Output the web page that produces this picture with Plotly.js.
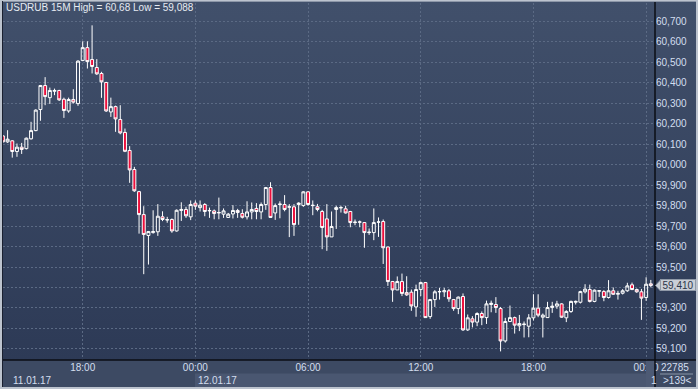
<!DOCTYPE html>
<html>
<head>
<meta charset="utf-8">
<script src="https://cdn.plot.ly/plotly-3.0.1.min.js"></script>
<style>
  html, body { margin: 0; padding: 0; background: #2d3a56; }
  #wrap { position: relative; width: 698px; height: 389px; overflow: hidden;
          background: linear-gradient(to bottom, #41506b 0px, #2d3a56 360px, #2d3a56 389px); }
  #chart { position: absolute; left: 0; top: 0; width: 698px; height: 389px; }
  #frame { position: absolute; left: 0; top: 0; width: 698px; height: 389px; box-sizing: border-box;
           border: 2px solid #bcc3ce; border-top-width: 1px; pointer-events: none;
           box-shadow: inset 1px 0 0 #1a2030, inset 0 1px 0 #8d97a8; }
</style>
</head>
<body>
<div id="wrap"><div id="chart"></div><div id="frame"></div></div>
<script>
// 15-minute bars, USDRUB, first bar 2017-01-11 13:45
const startTime = '2017-01-11T13:45:00Z';
const barMinutes = 15;

const openVals = [
  60.140, 60.111, 60.116, 60.064, 60.085, 60.078, 60.126, 60.166, 60.269, 60.386, 60.327, 60.358, 60.362, 60.319, 60.262, 60.318, 60.298,
  60.508, 60.571, 60.513, 60.474, 60.445, 60.401, 60.257, 60.283, 60.220, 60.157,
  60.069, 59.976, 59.868, 59.756, 59.654, 59.668, 59.672, 59.745, 59.732, 59.732,
  59.676, 59.776, 59.781, 59.745, 59.812, 59.790, 59.805, 59.774, 59.774, 59.764,
  59.758, 59.742, 59.759, 59.776, 59.761, 59.745, 59.769, 59.786, 59.769, 59.805,
  59.888, 59.764, 59.805, 59.805, 59.792, 59.794, 59.805, 59.800, 59.867, 59.802,
  59.794, 59.771, 59.735, 59.647, 59.781, 59.789, 59.784, 59.771, 59.717, 59.719,
  59.717, 59.668, 59.668, 59.719, 59.722, 59.598, 59.429, 59.388, 59.429, 59.375,
  59.377, 59.305, 59.390, 59.424, 59.258, 59.341, 59.379, 59.379, 59.384, 59.341,
  59.297, 59.356, 59.193, 59.247, 59.231, 59.273, 59.253, 59.317, 59.317, 59.297,
  59.139, 59.234, 59.253, 59.213, 59.219, 59.211, 59.252, 59.299, 59.255, 59.253,
  59.302, 59.309, 59.320, 59.252, 59.283, 59.328, 59.328, 59.379, 59.390, 59.332,
  59.382, 59.380, 59.351, 59.384, 59.367, 59.372, 59.384, 59.413, 59.390, 59.379,
  59.351, 59.418
];
const highVals = [
  60.144, 60.168, 60.119, 60.103, 60.106, 60.132, 60.209, 60.270, 60.389, 60.427, 60.376, 60.371, 60.365, 60.327, 60.327, 60.368, 60.510,
  60.602, 60.602, 60.680, 60.515, 60.453, 60.404, 60.327, 60.288, 60.290, 60.176,
  60.090, 59.989, 59.872, 59.797, 59.676, 59.777, 59.807, 59.772, 59.745, 59.737,
  59.781, 59.816, 59.794, 59.825, 59.825, 59.825, 59.812, 59.790, 59.781, 59.839,
  59.786, 59.764, 59.802, 59.784, 59.782, 59.821, 59.815, 59.812, 59.815, 59.891,
  59.914, 59.810, 59.821, 59.851, 59.807, 59.807, 59.816, 59.870, 59.870, 59.825,
  59.808, 59.779, 59.807, 59.771, 59.799, 59.799, 59.799, 59.774, 59.732, 59.727,
  59.719, 59.688, 59.786, 59.742, 59.732, 59.598, 59.432, 59.454, 59.468, 59.455,
  59.390, 59.414, 59.429, 59.427, 59.344, 59.387, 59.398, 59.398, 59.393, 59.344,
  59.356, 59.371, 59.268, 59.260, 59.279, 59.283, 59.336, 59.336, 59.353, 59.305,
  59.252, 59.312, 59.258, 59.266, 59.234, 59.270, 59.367, 59.367, 59.273, 59.330,
  59.330, 59.335, 59.323, 59.289, 59.336, 59.336, 59.384, 59.416, 59.414, 59.390,
  59.387, 59.387, 59.436, 59.400, 59.384, 59.392, 59.423, 59.424, 59.395, 59.393,
  59.450, 59.437
];
const lowVals = [
  60.108, 60.106, 60.034, 60.038, 60.052, 60.074, 60.122, 60.163, 60.214, 60.290, 60.296, 60.339, 60.311, 60.228, 60.253, 60.298, 60.287,
  60.505, 60.469, 60.445, 60.438, 60.326, 60.257, 60.233, 60.160, 60.148, 60.061,
  59.911, 59.867, 59.663, 59.465, 59.512, 59.663, 59.652, 59.724, 59.716, 59.667,
  59.673, 59.725, 59.740, 59.729, 59.779, 59.771, 59.748, 59.740, 59.733, 59.733,
  59.740, 59.740, 59.737, 59.740, 59.737, 59.732, 59.733, 59.733, 59.733, 59.779,
  59.740, 59.730, 59.738, 59.772, 59.646, 59.652, 59.706, 59.794, 59.800, 59.753,
  59.772, 59.587, 59.579, 59.647, 59.686, 59.766, 59.761, 59.694, 59.704, 59.694,
  59.594, 59.657, 59.631, 59.647, 59.515, 59.408, 59.330, 59.388, 59.358, 59.359,
  59.286, 59.257, 59.358, 59.252, 59.247, 59.305, 59.341, 59.354, 59.330, 59.286,
  59.270, 59.188, 59.188, 59.205, 59.211, 59.216, 59.222, 59.279, 59.276, 59.088,
  59.131, 59.231, 59.175, 59.187, 59.156, 59.157, 59.239, 59.255, 59.156, 59.253,
  59.276, 59.296, 59.252, 59.231, 59.276, 59.317, 59.322, 59.371, 59.327, 59.328,
  59.354, 59.333, 59.346, 59.364, 59.341, 59.366, 59.379, 59.387, 59.374, 59.242,
  59.335, 59.401
];
const closeVals = [
  60.111, 60.124, 60.064, 60.085, 60.074, 60.129, 60.166, 60.266, 60.386, 60.332, 60.362, 60.362, 60.316, 60.264, 60.318, 60.305, 60.505,
  60.571, 60.503, 60.479, 60.443, 60.404, 60.262, 60.283, 60.223, 60.155, 60.065,
  59.974, 59.872, 59.756, 59.659, 59.673, 59.673, 59.748, 59.732, 59.730, 59.676,
  59.777, 59.781, 59.750, 59.805, 59.797, 59.802, 59.771, 59.776, 59.761, 59.766,
  59.774, 59.758, 59.776, 59.766, 59.743, 59.769, 59.781, 59.771, 59.805, 59.888,
  59.742, 59.800, 59.807, 59.781, 59.794, 59.707, 59.812, 59.867, 59.805, 59.800,
  59.781, 59.693, 59.647, 59.698, 59.790, 59.790, 59.764, 59.717, 59.719, 59.720,
  59.668, 59.670, 59.717, 59.720, 59.594, 59.429, 59.388, 59.429, 59.371, 59.364,
  59.310, 59.390, 59.424, 59.253, 59.341, 59.379, 59.380, 59.384, 59.345, 59.297,
  59.353, 59.193, 59.252, 59.231, 59.273, 59.253, 59.320, 59.323, 59.302, 59.139,
  59.234, 59.253, 59.216, 59.224, 59.221, 59.252, 59.299, 59.265, 59.265, 59.302,
  59.309, 59.320, 59.255, 59.283, 59.332, 59.332, 59.380, 59.392, 59.332, 59.387,
  59.384, 59.351, 59.384, 59.367, 59.371, 59.384, 59.408, 59.390, 59.379, 59.348,
  59.416, 59.410
];

const xTickVals = ['2017-01-11 18:00', '2017-01-12 00:00', '2017-01-12 06:00', '2017-01-12 12:00', '2017-01-12 18:00', '2017-01-13 00:00'];
const xTickText = ['18:00', '00:00', '06:00', '12:00', '18:00', '00:00'];
const yTickVals = [59.1, 59.2, 59.3, 59.4, 59.5, 59.6, 59.7, 59.8, 59.9, 60.0, 60.1, 60.2, 60.3, 60.4, 60.5, 60.6, 60.7];
// the 59,400 label is hidden under the last-price tag in the reference
const yTickText = ['59,100', '59,200', '59,300', '', '59,500', '59,600', '59,700', '59,800', '59,900', '60,000',
                   '60,100', '60,200', '60,300', '60,400', '60,500', '60,600', '60,700'];
const dateLabels = ['11.01.17', '12.01.17', '1'];
const titleText = 'USDRUB 15M High = 60,68 Low = 59,088';
const lastPrice = 59.410;
const lastPriceText = '59,410';
const infoTop = '22785';
const infoBottom = '>139<';

function fmt(d) {
  const p = n => String(n).padStart(2, '0');
  return d.getUTCFullYear() + '-' + p(d.getUTCMonth() + 1) + '-' + p(d.getUTCDate()) + ' ' + p(d.getUTCHours()) + ':' + p(d.getUTCMinutes());
}
const t0 = new Date(startTime).getTime();
const times = openVals.map((_, i) => fmt(new Date(t0 + i * barMinutes * 60000)));

const W = 698, H = 389, ML = 3, MR = 43, MT = 3, MB = 29;
const PW = W - ML - MR, PH = H - MT - MB;
const px = x => (x - ML) / PW;          // pixel -> paper x
const py = y => (H - MB - y) / PH;      // pixel -> paper y

const fontFam = '"Liberation Sans", Arial, sans-serif';
const labelColor = '#d3deef';
const gridColor = '#5b6a84';

const trace = {
  type: 'candlestick',
  x: times, open: openVals, high: highVals, low: lowVals, close: closeVals,
  increasing: { line: { color: '#ffffff', width: 1 }, fillcolor: 'rgba(0,0,0,0)' },
  decreasing: { line: { color: '#ffffff', width: 1 }, fillcolor: '#ec0f3c' },
  whiskerwidth: 0,
  hoverinfo: 'skip',
  showlegend: false
};

const yr = [59.046, 60.789];
const tagHalf = 5.5 * (yr[1] - yr[0]) / PH;

const layout = {
  width: W, height: H,
  margin: { l: ML, r: MR, t: MT, b: MB, pad: 0 },
  paper_bgcolor: 'rgba(0,0,0,0)',
  plot_bgcolor: 'rgba(0,0,0,0)',
  separators: ', ',
  boxgap: 0.1,
  font: { family: fontFam, size: 10, color: labelColor },
  xaxis: {
    type: 'date',
    range: ['2017-01-11 13:45:22', '2017-01-13 00:28:21'],
    rangeslider: { visible: false },
    tickmode: 'array', tickvals: xTickVals, ticktext: xTickText,
    showgrid: true, gridcolor: gridColor, griddash: '2px,2px', gridwidth: 1,
    zeroline: false, showline: false, ticks: '',
    tickfont: { family: fontFam, size: 10, color: labelColor },
    fixedrange: true
  },
  yaxis: {
    side: 'right',
    range: yr,
    tickmode: 'array', tickvals: yTickVals, ticktext: yTickText,
    showgrid: true, gridcolor: gridColor, griddash: '2px,2px', gridwidth: 1,
    zeroline: false, showline: false, ticks: '',
    tickfont: { family: fontFam, size: 10, color: labelColor },
    fixedrange: true
  },
  shapes: [
    { type: 'rect', xref: 'paper', yref: 'paper', x0: px(0), x1: px(698), y0: py(389), y1: py(360),
      fillcolor: '#3d4a63', line: { width: 0 }, layer: 'below' },
    { type: 'rect', xref: 'paper', yref: 'paper', x0: px(195), x1: px(646), y0: py(389), y1: py(373.5),
      fillcolor: '#4a5771', line: { width: 0 }, layer: 'below' },
    { type: 'rect', xref: 'paper', yref: 'paper', x0: px(646), x1: px(655), y0: py(389), y1: py(360.5),
      fillcolor: '#4d5a74', line: { width: 0 }, layer: 'above' },
    { type: 'line', xref: 'paper', yref: 'paper', x0: px(655), x1: px(655), y0: py(389), y1: py(2),
      line: { color: '#0b0e15', width: 1.5 }, layer: 'above' },
    { type: 'line', xref: 'paper', yref: 'paper', x0: px(2), x1: px(698), y0: py(360), y1: py(360),
      line: { color: '#0b0e15', width: 1.5 }, layer: 'above' },
    { type: 'line', xref: 'paper', yref: 'paper', x0: px(660), x1: px(693), y0: py(374), y1: py(374),
      line: { color: '#8a95a8', width: 1 }, layer: 'above' },
    { type: 'path', xref: 'paper', yref: 'y', layer: 'above',
      path: 'M ' + px(655.5) + ',' + lastPrice + ' L ' + px(660.5) + ',' + (lastPrice + tagHalf) +
            ' L ' + px(660.5) + ',' + (lastPrice - tagHalf) + ' Z',
      fillcolor: '#c9ced6', line: { color: '#8f99a8', width: 1 } }
  ],
  annotations: [
    { text: titleText, xref: 'paper', yref: 'paper', x: px(4), y: py(8), xanchor: 'left', yanchor: 'middle',
      showarrow: false, font: { family: fontFam, size: 10, color: '#e6ebf2' } },
    { text: dateLabels[0], xref: 'paper', yref: 'paper', x: px(11), y: py(380), xanchor: 'left', yanchor: 'middle',
      showarrow: false, font: { family: fontFam, size: 10, color: labelColor } },
    { text: dateLabels[1], xref: 'paper', yref: 'paper', x: px(196), y: py(380), xanchor: 'left', yanchor: 'middle',
      showarrow: false, font: { family: fontFam, size: 10, color: labelColor } },
    { text: dateLabels[2], xref: 'paper', yref: 'paper', x: px(649), y: py(380), xanchor: 'left', yanchor: 'middle',
      showarrow: false, font: { family: fontFam, size: 10, color: labelColor } },
    { text: infoTop, xref: 'paper', yref: 'paper', x: px(675), y: py(367.5), xanchor: 'center', yanchor: 'middle',
      showarrow: false, font: { family: fontFam, size: 10, color: labelColor } },
    { text: infoBottom, xref: 'paper', yref: 'paper', x: px(677), y: py(380), xanchor: 'center', yanchor: 'middle',
      showarrow: false, font: { family: fontFam, size: 10, color: labelColor } },
    { text: lastPriceText, xref: 'paper', yref: 'y', x: px(660), y: lastPrice, xanchor: 'left', yanchor: 'middle',
      showarrow: false, bgcolor: '#c9ced6', bordercolor: '#8f99a8', borderwidth: 1, borderpad: 0,
      width: 34, height: 10, font: { family: fontFam, size: 10, color: '#2b3548' } }
  ]
};

Plotly.newPlot('chart', [trace], layout, { displayModeBar: false, staticPlot: true });
</script>
</body>
</html>
